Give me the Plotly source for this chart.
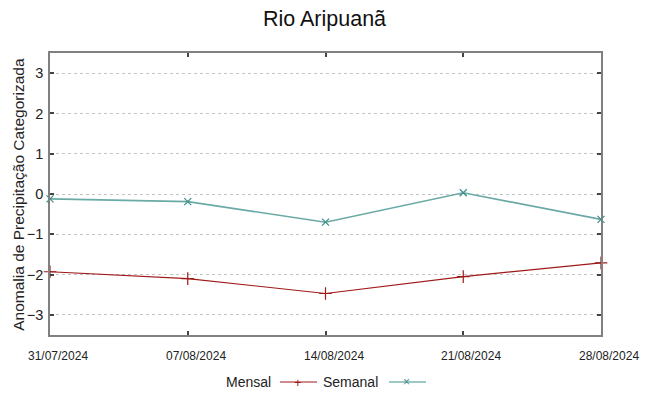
import plotly.graph_objects as go

dates = ["2024-07-31", "2024-08-07", "2024-08-14", "2024-08-21", "2024-08-28"]
tick_labels = ["31/07/2024", "07/08/2024", "14/08/2024", "21/08/2024", "28/08/2024"]
mensal = [-1.93, -2.10, -2.47, -2.05, -1.71]
semanal = [-0.12, -0.19, -0.70, 0.03, -0.63]
y_ticks = [-3, -2, -1, 0, 1, 2, 3]

RED = "#a01818"
TEAL = "#6aaaa6"
TEAL_MK = "#3a8f8a"

fig = go.Figure()
fig.add_trace(go.Scatter(
    x=dates, y=mensal, name="Mensal", mode="lines+markers",
    line=dict(color=RED, width=1.2),
    marker=dict(symbol="cross-thin", size=9, line=dict(color=RED, width=1.2)),
    cliponaxis=False,
))
fig.add_trace(go.Scatter(
    x=dates, y=semanal, name="Semanal", mode="lines+markers",
    line=dict(color=TEAL, width=1.6),
    marker=dict(symbol="x-thin", size=7, line=dict(color=TEAL_MK, width=1.2)),
    cliponaxis=False,
))

# custom legend (text before sample, as in the reference)
ly = -0.1667
shapes = [
    dict(type="line", xref="paper", yref="paper", x0=0.4174, x1=0.4846, y0=ly, y1=ly,
         line=dict(color=RED, width=1.2)),
    dict(type="line", xref="paper", yref="paper", x0=0.6152, x1=0.6824, y0=ly, y1=ly,
         line=dict(color=TEAL_MK, width=1.2)),
]
annotations = [
    dict(text="Mensal", xref="paper", yref="paper", x=0.4047, y=ly, xanchor="right",
         yanchor="middle", showarrow=False, font=dict(size=14, color="#222222")),
    dict(text="Semanal", xref="paper", yref="paper", x=0.5989, y=ly, xanchor="right",
         yanchor="middle", showarrow=False, font=dict(size=14, color="#222222")),
    dict(text="+", xref="paper", yref="paper", x=0.4501, y=ly, showarrow=False,
         xanchor="center", yanchor="middle", font=dict(size=13, color=RED)),
    dict(text="×", xref="paper", yref="paper", x=0.6479, y=ly, showarrow=False,
         xanchor="center", yanchor="middle", font=dict(size=12, color=TEAL_MK)),
    # y-axis title
    dict(text="Anomalia de Precipitação Categorizada", xref="paper", yref="paper",
         x=-0.0585, y=0.5, xanchor="center", yanchor="middle", textangle=-90,
         showarrow=False, font=dict(size=15.5, color="#222222")),
]
# x tick labels (offset to the right as in the reference)
for d, lab in zip(dates, tick_labels):
    annotations.append(dict(text=lab, x=d, xref="x", yref="paper", y=-0.0745,
                            xanchor="center", yanchor="middle", xshift=8,
                            showarrow=False, font=dict(size=12, color="#222222")))

fig.update_layout(
    width=649, height=396,
    margin=dict(l=50, r=48, t=53, b=61, autoexpand=False),
    paper_bgcolor="white", plot_bgcolor="white",
    font=dict(family="Liberation Sans, Arial, sans-serif", color="#222222"),
    title=dict(text="Rio Aripuanã", x=0.5, xanchor="center", y=0.953, yanchor="middle",
               font=dict(size=21.5, color="#111111")),
    showlegend=False,
    shapes=shapes,
    annotations=annotations,
)

fig.update_xaxes(
    type="date", range=[dates[0], dates[-1]], automargin=False,
    tickvals=dates, showticklabels=False,
    ticks="inside", ticklen=4, tickcolor="#444444", tickwidth=1.5,
    showline=True, linecolor="#808080", linewidth=1.5, mirror="ticks",
    showgrid=False, zeroline=False,
)
fig.update_yaxes(
    range=[-3.5, 3.5], tickvals=y_ticks, automargin=False,
    tickfont=dict(size=14.5), ticks="inside", ticklen=4, tickcolor="#444444", tickwidth=1.5,
    ticklabelstandoff=2,
    showline=True, linecolor="#808080", linewidth=1.5, mirror="ticks",
    showgrid=True, gridcolor="#c4c4c4", griddash="dot", gridwidth=1,
    zeroline=False,
)

fig.write_html("out.html", config={"displayModeBar": False},
               post_script="document.body.style.margin='0';")
